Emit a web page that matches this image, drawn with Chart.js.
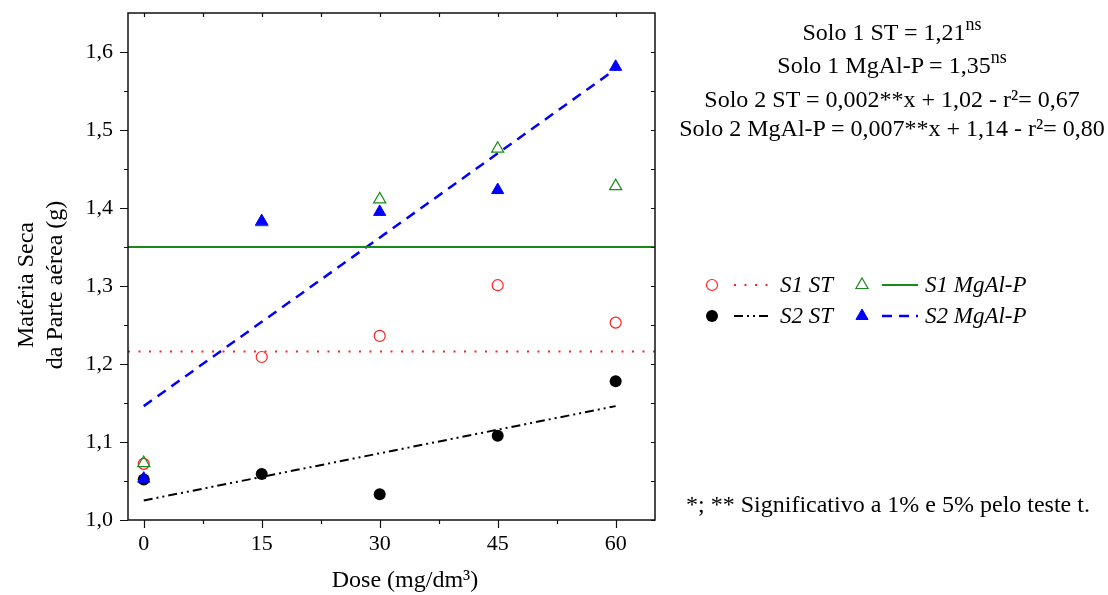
<!DOCTYPE html>
<html>
<head>
<meta charset="utf-8">
<script src="https://cdn.jsdelivr.net/npm/chart.js@4.4.1/dist/chart.umd.min.js"></script>
<style>
    body { margin: 0; background: #fff; }
    #wrap { position: relative; width: 1108px; height: 595px; font-family: 'Liberation Serif', 'Times New Roman', serif; color: #000; }
    #chart { position: absolute; left: 0; top: 0; }
    .eq { position: absolute; left: 660px; width: 464px; text-align: center; font-size: 24px; line-height: 30px; height: 30px; white-space: nowrap; }
    .eq sup { font-size: 18px; line-height: 0; vertical-align: 10px; }
    .note { position: absolute; left: 660px; width: 456px; top: 489px; text-align: center; font-size: 24px; line-height: 30px; white-space: nowrap; }
</style>
</head>
<body>
<div id="wrap">
    <canvas id="chart" width="1108" height="595"></canvas>
    <div class="eq" style="top:17px">Solo 1 ST = 1,21<sup>ns</sup></div>
    <div class="eq" style="top:50px">Solo 1 MgAl-P = 1,35<sup>ns</sup></div>
    <div class="eq" style="top:84px">Solo 2 ST = 0,002**x + 1,02 - r²= 0,67</div>
    <div class="eq" style="top:113px">Solo 2 MgAl-P = 0,007**x + 1,14 - r²= 0,80</div>
    <div class="note">*; ** Significativo a 1% e 5% pelo teste t.</div>
</div>
<script>
const doses = [0, 15, 30, 45, 60];
const s1St = [1.072, 1.209, 1.236, 1.301, 1.253];
const s1MgAlP = [1.073, 1.382, 1.411, 1.476, 1.428];
const s2St = [1.052, 1.059, 1.033, 1.108, 1.178];
const s2MgAlP = [1.053, 1.383, 1.395, 1.423, 1.581];

// fitted lines
const xRange = [-2, 65];
const s1StMean = 1.216;
const s1MgAlPMean = 1.350;
const fitDoses = [0, 60];
const s2StFit = [1.025, 1.146];
const s2MgAlPFit = [1.146, 1.578];

// axis ticks
const xTicks = [0, 7.5, 15, 22.5, 30, 37.5, 45, 52.5, 60];
const xTickLabels = ['0', '', '15', '', '30', '', '45', '', '60'];
const yTicks = [1.0, 1.05, 1.1, 1.15, 1.2, 1.25, 1.3, 1.35, 1.4, 1.45, 1.5, 1.55, 1.6];
const yTickLabels = ['1,0', '', '1,1', '', '1,2', '', '1,3', '', '1,4', '', '1,5', '', '1,6'];

const xTitle = 'Dose (mg/dm³)';
const yTitle = ['Matéria Seca', 'da Parte aérea (g)'];

const legendRows = [
    [{ point: 2, line: 4, label: 'S1 ST' }, { point: 1, line: 5, label: 'S1 MgAl-P' }],
    [{ point: 3, line: 6, label: 'S2 ST' }, { point: 0, line: 7, label: 'S2 MgAl-P' }]
];

const pts = (ys) => doses.map((x, i) => ({ x, y: ys[i] }));
const fit = (ys) => fitDoses.map((x, i) => ({ x, y: ys[i] }));
const flat = (v) => xRange.map((x) => ({ x, y: v }));

const serif = "'Liberation Serif', 'Times New Roman', serif";
Chart.defaults.font.family = serif;
Chart.defaults.color = '#000';

const frameTicks = {
    id: 'frameTicks',
    afterDraw(chart) {
        const { ctx, chartArea: a, scales } = chart;
        ctx.save();
        ctx.strokeStyle = '#111';
        ctx.lineWidth = 1.5;
        ctx.strokeRect(a.left, a.top, a.right - a.left, a.bottom - a.top);
        ctx.beginPath();
        xTicks.forEach((v, i) => {
            const px = Math.round(scales.x.getPixelForValue(v)) + 0.5;
            const len = xTickLabels[i] ? 8 : 4;
            ctx.moveTo(px, a.bottom); ctx.lineTo(px, a.bottom + len);
            ctx.moveTo(px, a.top); ctx.lineTo(px, a.top + 4);
        });
        yTicks.forEach((v, i) => {
            const py = Math.round(scales.y.getPixelForValue(v)) + 0.5;
            const len = yTickLabels[i] ? 8 : 4;
            ctx.moveTo(a.left - len, py); ctx.lineTo(a.left, py);
            ctx.moveTo(a.right - 4, py); ctx.lineTo(a.right, py);
        });
        ctx.lineWidth = 1.2;
        ctx.stroke();

        // axis titles
        ctx.fillStyle = '#000';
        ctx.font = '24px ' + serif;
        ctx.textAlign = 'center';
        ctx.textBaseline = 'alphabetic';
        ctx.fillText(xTitle, 405, 587);
        ctx.save();
        ctx.translate(0, 285);
        ctx.rotate(-Math.PI / 2);
        ctx.fillText(yTitle[0], 0, 33);
        ctx.fillText(yTitle[1], 0, 62);
        ctx.restore();

        // legend
        const rowsY = [285, 316];
        const cols = [{ mark: 712, l0: 734, l1: 769, text: 780 }, { mark: 862, l0: 882, l1: 918, text: 925 }];
        ctx.font = 'italic 23px ' + serif;
        ctx.textAlign = 'left';
        ctx.textBaseline = 'middle';
        legendRows.forEach((row, r) => {
            row.forEach((item, c) => {
                const p = chart.data.datasets[item.point];
                const l = chart.data.datasets[item.line];
                const col = cols[c];
                const y = rowsY[r];
                ctx.setLineDash(l.borderDash || []);
                ctx.strokeStyle = l.borderColor;
                ctx.lineWidth = l.borderWidth;
                ctx.beginPath();
                ctx.moveTo(col.l0, y); ctx.lineTo(col.l1, y);
                ctx.stroke();
                ctx.setLineDash([]);
                ctx.fillStyle = p.backgroundColor;
                ctx.strokeStyle = p.borderColor;
                ctx.lineWidth = p.borderWidth;
                Chart.helpers.drawPoint(ctx, { pointStyle: p.pointStyle, radius: p.pointRadius, borderWidth: p.borderWidth, rotation: 0 }, col.mark, y);
                ctx.fillStyle = '#000';
                ctx.fillText(item.label, col.text, y + 1);
            });
        });
        ctx.restore();
    }
};

new Chart(document.getElementById('chart'), {
    type: 'scatter',
    data: {
        datasets: [
            { label: 'S2 MgAl-P', data: pts(s2MgAlP), pointStyle: 'triangle', pointRadius: 7, borderWidth: 1, borderColor: '#0000ff', backgroundColor: '#0000ff' },
            { label: 'S1 MgAl-P', data: pts(s1MgAlP), pointStyle: 'triangle', pointRadius: 7, borderWidth: 1.2, borderColor: '#1a8a1a', backgroundColor: 'rgba(255,255,255,0)' },
            { label: 'S1 ST', data: pts(s1St), pointStyle: 'circle', pointRadius: 5.5, borderWidth: 1.2, borderColor: '#ff2020', backgroundColor: 'rgba(255,255,255,0)' },
            { label: 'S2 ST', data: pts(s2St), pointStyle: 'circle', pointRadius: 6, borderWidth: 0, borderColor: '#000', backgroundColor: '#000' },
            { label: 'S1 ST fit', data: flat(s1StMean), showLine: true, pointRadius: 0, borderColor: '#ff2020', borderWidth: 2, borderDash: [2, 8.5] },
            { label: 'S1 MgAl-P fit', data: flat(s1MgAlPMean), showLine: true, pointRadius: 0, borderColor: '#178a17', borderWidth: 2 },
            { label: 'S2 ST fit', data: fit(s2StFit), showLine: true, pointRadius: 0, borderColor: '#000', borderWidth: 2, borderDash: [9, 4, 2, 4, 2, 4] },
            { label: 'S2 MgAl-P fit', data: fit(s2MgAlPFit), showLine: true, pointRadius: 0, borderColor: '#0000ff', borderWidth: 2.5, borderDash: [10, 7] }
        ]
    },
    options: {
        responsive: false,
        animation: false,
        devicePixelRatio: 1,
        layout: { padding: { left: 0, top: 13, right: 453, bottom: 0 } },
        plugins: { legend: { display: false }, tooltip: { enabled: false } },
        scales: {
            x: {
                type: 'linear',
                min: xRange[0],
                max: xRange[1],
                grid: { display: false, drawTicks: false },
                border: { display: false },
                afterBuildTicks: (scale) => { scale.ticks = xTicks.map((value) => ({ value })); },
                afterFit: (scale) => { scale.height = 75; scale.paddingLeft = 0; scale.paddingRight = 0; },
                ticks: {
                    autoSkip: false,
                    maxRotation: 0,
                    padding: 11,
                    font: { size: 22 },
                    callback: (value, i) => xTickLabels[i]
                }
            },
            y: {
                min: 1.0,
                max: 1.65,
                grid: { display: false, drawTicks: false },
                border: { display: false },
                afterBuildTicks: (scale) => { scale.ticks = yTicks.map((value) => ({ value })); },
                afterFit: (scale) => { scale.width = 128; scale.paddingTop = 0; scale.paddingBottom = 0; },
                ticks: {
                    autoSkip: false,
                    padding: 15,
                    font: { size: 22 },
                    callback: (value, i) => yTickLabels[i]
                }
            }
        }
    },
    plugins: [frameTicks]
});
</script>
</body>
</html>
